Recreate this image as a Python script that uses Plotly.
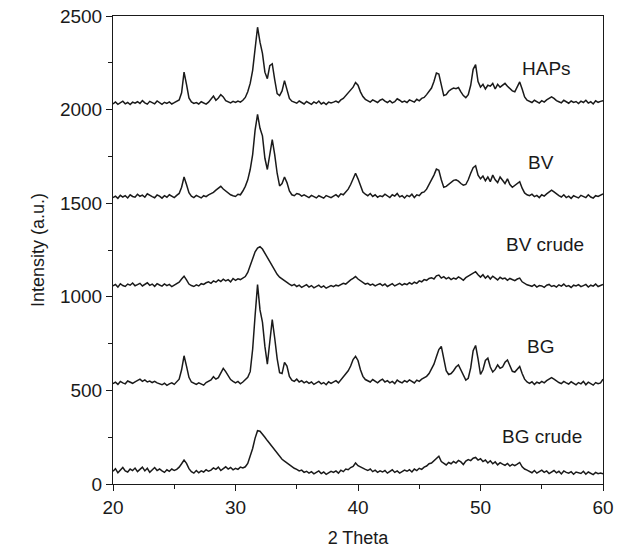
import plotly.graph_objects as go

# 2-theta scan grid (0.2 degree step)
two_theta = [round(20 + 0.2 * i, 1) for i in range(201)]

haps = [
    2030, 2041, 2028, 2036, 2045, 2031, 2038, 2027, 2040, 2034,
    2042, 2033, 2048, 2036, 2029, 2044, 2037, 2031, 2046, 2035,
    2028, 2039, 2033, 2041, 2030, 2037, 2044, 2052, 2090, 2200,
    2135, 2062, 2041, 2033, 2038, 2030, 2042, 2035, 2029, 2040,
    2058, 2072, 2050, 2062, 2080, 2068, 2048, 2040, 2036, 2044,
    2038, 2046, 2040, 2050, 2065, 2095, 2140, 2210, 2330, 2440,
    2360, 2300, 2200, 2165, 2235, 2245, 2160, 2085, 2075, 2100,
    2155, 2110, 2060, 2045, 2040, 2034, 2046, 2038, 2030, 2043,
    2035, 2028, 2041, 2033, 2046, 2030, 2038, 2027, 2040, 2035,
    2040, 2046, 2038, 2052, 2060, 2075, 2090, 2105, 2120, 2145,
    2130, 2095, 2070, 2055, 2048, 2040, 2052, 2044, 2038, 2050,
    2056, 2045, 2038, 2048, 2036, 2042, 2058, 2050, 2040, 2046,
    2038, 2052, 2044, 2040, 2055, 2047, 2060, 2065, 2080, 2095,
    2115, 2150, 2195, 2190, 2130, 2075, 2080, 2098, 2108, 2115,
    2112, 2118, 2095, 2075, 2064, 2080, 2130, 2215, 2240, 2150,
    2120, 2135, 2110, 2130, 2125, 2140, 2110, 2135, 2120, 2128,
    2140, 2125, 2110, 2100, 2095, 2120, 2148, 2110, 2068, 2050,
    2045, 2038, 2050, 2042, 2035, 2048, 2040, 2052, 2060, 2068,
    2060, 2048, 2042, 2036, 2050, 2040, 2034, 2046, 2038, 2043,
    2032, 2045, 2038, 2050, 2035, 2042, 2030, 2047, 2039, 2044,
    2048,
]

bv = [
    1530, 1538, 1526, 1542, 1533, 1540, 1528, 1545, 1536, 1532,
    1548, 1537, 1543, 1532, 1550, 1541, 1535, 1529, 1544, 1538,
    1527, 1540, 1532, 1545, 1536, 1530, 1542, 1552, 1585, 1640,
    1600, 1556, 1538, 1530, 1542, 1533, 1528, 1540, 1535, 1545,
    1550, 1558, 1570, 1582, 1590, 1576, 1565, 1552, 1545, 1540,
    1536, 1548, 1545, 1565, 1590, 1625, 1680, 1760, 1890, 1975,
    1900, 1860, 1740, 1680, 1760, 1840, 1760, 1660, 1592, 1605,
    1640, 1610, 1565, 1545, 1540, 1552, 1548, 1538, 1545, 1535,
    1530, 1542, 1535, 1528, 1540, 1533, 1527, 1541, 1536, 1530,
    1538, 1546, 1534, 1550, 1545, 1560, 1575, 1600, 1635, 1660,
    1630, 1590, 1560, 1548, 1540, 1552, 1536, 1545, 1532, 1540,
    1535, 1548, 1540, 1530, 1545, 1538, 1552, 1534, 1540, 1528,
    1542, 1535, 1548, 1530, 1545, 1540, 1556, 1560, 1575, 1600,
    1620, 1650, 1682, 1676, 1625, 1585, 1590, 1602, 1615, 1622,
    1625, 1618, 1605, 1596, 1600, 1625, 1660, 1690, 1700, 1650,
    1630, 1645, 1620, 1640, 1615, 1650, 1625, 1610, 1640, 1620,
    1605, 1630, 1600, 1585, 1595, 1605, 1615, 1580, 1555, 1545,
    1540, 1548, 1535, 1542, 1530, 1545, 1538, 1550, 1558, 1570,
    1560, 1548, 1540, 1533, 1545, 1530, 1538, 1526, 1540, 1534,
    1528, 1542, 1535, 1530, 1545, 1533, 1527, 1540, 1536, 1545,
    1550,
]

bv_crude = [
    1058, 1066, 1052, 1070, 1060, 1055, 1068, 1062, 1074, 1059,
    1065, 1072, 1058, 1066, 1075, 1061, 1068, 1056, 1070, 1063,
    1057, 1069, 1060, 1066, 1054, 1062, 1070, 1078, 1095, 1110,
    1090, 1068, 1060, 1055, 1064, 1058, 1070, 1066, 1075, 1080,
    1072, 1085, 1078, 1090, 1082, 1094, 1085, 1092, 1080, 1098,
    1088, 1096, 1092, 1100, 1108, 1130, 1165, 1200, 1240, 1260,
    1268, 1255, 1235, 1210, 1188, 1165, 1140, 1120, 1105, 1095,
    1085, 1075, 1068, 1060, 1066, 1055, 1062, 1050, 1058, 1065,
    1052, 1060, 1048, 1057, 1062, 1050, 1058, 1046, 1055, 1060,
    1054, 1062, 1058, 1066, 1072, 1068, 1080, 1090, 1098, 1108,
    1095, 1085, 1075, 1068, 1072, 1062, 1068, 1058, 1065, 1070,
    1060, 1068, 1055, 1064, 1070, 1058, 1066, 1072, 1062, 1070,
    1065, 1075, 1068, 1078, 1072, 1085, 1080, 1092, 1088, 1098,
    1102, 1095, 1112, 1116, 1100, 1108, 1096, 1104, 1092, 1100,
    1095, 1106, 1098, 1088, 1102, 1110, 1120, 1128, 1134, 1118,
    1105, 1118, 1100, 1112, 1095, 1110, 1102, 1090, 1104, 1096,
    1100, 1088, 1098, 1092, 1086, 1095, 1100, 1080, 1070, 1064,
    1060, 1056, 1065, 1052, 1060, 1058, 1050, 1062, 1066, 1055,
    1060, 1052, 1064, 1057, 1068, 1055, 1060, 1050, 1062, 1058,
    1065, 1054, 1060, 1066, 1052, 1062, 1057, 1068, 1055, 1062,
    1066,
]

bg = [
    536, 544, 532, 548, 540, 535, 550, 542, 538, 546,
    552, 560, 548, 556, 545, 550, 542, 548, 540, 536,
    530, 538, 527, 535, 540, 532, 545, 560, 610, 685,
    630, 570, 545, 538, 532, 540, 535, 528, 542, 548,
    556, 573, 560, 568, 590, 618, 600, 575, 558, 548,
    540, 548, 535, 545, 556, 570, 600, 720, 900, 1065,
    930, 865, 735, 640, 760, 878, 780, 670, 595, 590,
    650, 630, 575, 555, 548, 560, 545, 552, 540, 548,
    538, 545, 532, 540, 548, 535, 542, 530, 546, 538,
    544, 552, 540, 556, 572, 590, 605, 630, 665, 682,
    660, 610, 575, 558, 550, 545, 558, 548, 540, 552,
    560, 545, 552, 540, 548, 536, 555, 546, 540, 552,
    545, 556, 548, 540, 555, 548, 560, 566, 575, 590,
    612, 640, 680, 718, 735, 672, 605, 585, 590, 605,
    625, 636, 608, 575, 555, 565, 620, 712, 740, 668,
    585, 610, 660, 672, 625, 598, 612, 636, 618, 625,
    650, 662, 630, 602, 598, 612, 628, 590, 560, 545,
    538, 546, 532, 544, 538, 548, 540, 552, 560, 568,
    560, 550, 542, 536, 548, 540, 534, 546, 538, 530,
    542, 535, 548, 530, 544, 538, 528, 542, 536, 540,
    560,
]

bg_crude = [
    68, 82, 60, 75, 88, 70, 64, 80, 72, 85,
    66, 78, 90, 70, 84, 62, 76, 88, 72, 80,
    70, 62, 76, 68, 80, 72, 78, 90, 108, 128,
    110, 82, 66, 58, 72, 60, 70, 64, 76, 68,
    74, 86, 78, 90, 72, 84, 92, 80, 88, 76,
    84, 78, 90, 86, 92, 110, 145, 190, 245, 285,
    282, 268, 250, 232, 215, 195, 178, 160, 146, 132,
    122, 112, 100, 92, 84, 78, 70, 74, 62, 68,
    58, 66, 54, 62, 70, 56, 64, 52, 60, 68,
    62, 70, 58, 74, 66, 80, 76, 88, 94, 112,
    98, 90, 84, 78, 72, 80, 66, 74, 62, 70,
    64, 72, 58, 68, 76, 62, 70, 58, 66, 74,
    68, 76, 64, 80, 72, 84, 78, 90, 96, 108,
    112, 125, 140, 148, 120, 110, 102, 115, 108, 120,
    112, 126, 118, 104, 122, 130, 125, 138, 142, 128,
    135, 120, 128, 112, 124, 108, 118, 102, 114, 106,
    100, 110, 96, 105, 98, 106, 115, 92, 80, 74,
    68, 60, 72, 58, 66, 74, 62, 70, 56, 64,
    72, 60, 68, 54, 70, 62, 58, 66, 52, 64,
    60, 56, 68, 52, 64, 58, 50, 62, 55, 58,
    54,
]

series_names = ["HAPs", "BV", "BV crude", "BG", "BG crude"]
series_values = [haps, bv, bv_crude, bg, bg_crude]
label_x = [55.4, 54.9, 55.3, 54.9, 55.0]
label_y = [2222, 1715, 1282, 737, 256]

x_ticks = [20, 30, 40, 50, 60]
y_ticks = [0, 500, 1000, 1500, 2000, 2500]

FONT = "Liberation Sans, Arial, sans-serif"
INK = "#1a1a1a"

fig = go.Figure()
for name, vals in zip(series_names, series_values):
    fig.add_trace(go.Scatter(
        x=two_theta, y=vals, mode="lines", name=name,
        line=dict(color=INK, width=1.5), showlegend=False,
    ))

for name, lx, ly in zip(series_names, label_x, label_y):
    fig.add_annotation(x=lx, y=ly, text=name, showarrow=False,
                       font=dict(family=FONT, size=19, color=INK),
                       xanchor="center", yanchor="middle")

axis_common = dict(
    showline=True, linecolor=INK, linewidth=1, mirror=True,
    ticks="outside", ticklen=6, tickwidth=1, tickcolor=INK,
    showgrid=False, zeroline=False,
    tickfont=dict(family=FONT, size=19, color=INK),
)

fig.update_xaxes(
    range=[20, 60], tickvals=x_ticks,
    title=dict(text="2 Theta", font=dict(family=FONT, size=18, color=INK), standoff=14),
    minor=dict(dtick=5, tick0=20, ticks="outside", ticklen=4, tickcolor=INK),
    **axis_common,
)
fig.update_yaxes(
    range=[0, 2500], tickvals=y_ticks, ticklabeloverflow="allow",
    title=dict(text="Intensity (a.u.)", font=dict(family=FONT, size=18, color=INK), standoff=10),
    minor=dict(dtick=250, tick0=0, ticks="outside", ticklen=4, tickcolor=INK),
    **axis_common,
)

fig.update_layout(
    width=626, height=555,
    margin=dict(l=113, r=23, t=16, b=71, autoexpand=False),
    plot_bgcolor="white", paper_bgcolor="white",
    font=dict(family=FONT, color=INK),
)

fig.write_html("out.html", config={"displayModeBar": False},
               post_script="document.body.style.margin='0px';")
